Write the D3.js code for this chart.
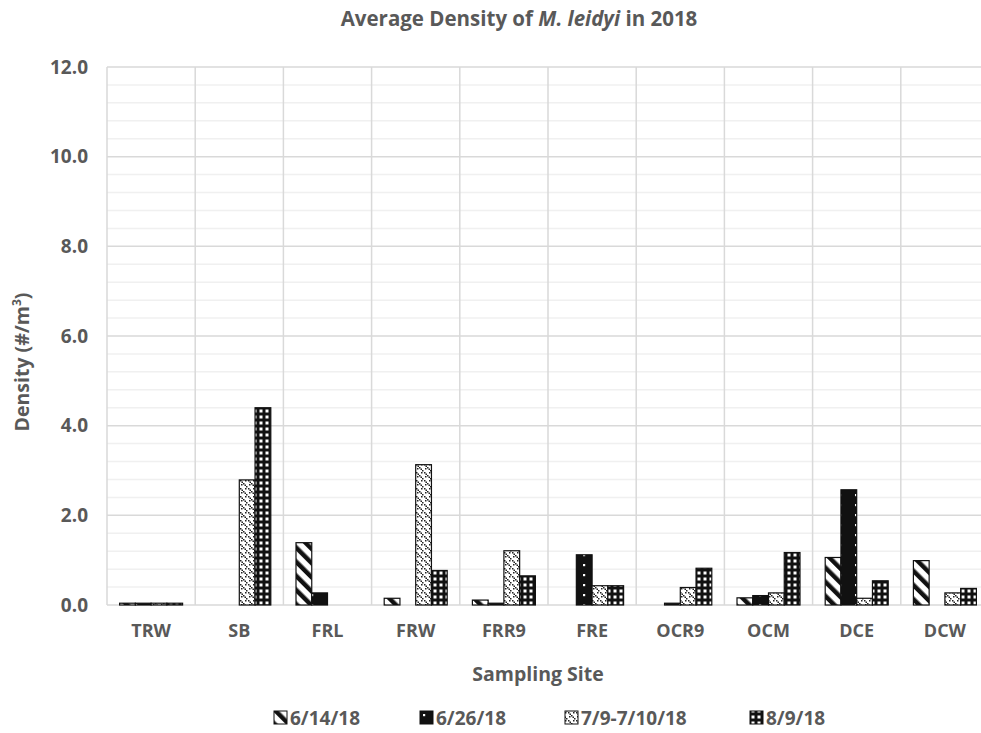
<!DOCTYPE html>
<html><head><meta charset="utf-8">
<script src="https://cdn.jsdelivr.net/npm/d3@7"></script>
<style>body{margin:0;background:#fff}svg{display:block}</style>
</head><body>
<svg id="c" width="981" height="733"></svg>
<script>
const sites = ["TRW","SB","FRL","FRW","FRR9","FRE","OCR9","OCM","DCE","DCW"];
const seriesNames = ["6/14/18","6/26/18","7/9-7/10/18","8/9/18"];
const s0614 = [0.04,0,1.39,0.15,0.11,0,0,0.16,1.06,0.99];
const s0626 = [0.04,0,0.27,0,0.04,1.12,0.04,0.21,2.57,0];
const s0709 = [0.04,2.79,0,3.13,1.21,0.43,0.39,0.27,0.15,0.27];
const s0809 = [0.04,4.40,0,0.77,0.65,0.43,0.82,1.17,0.54,0.37];
const seriesValues = [s0614,s0626,s0709,s0809];
const yTicks = [0,2,4,6,8,10,12];

const svg = d3.select("#c");
const m={l:107,r:989,t:67,b:605};
const textCol="#595959";
const font="'Open Sans', sans-serif";

const defs=svg.append("defs");
const p1=defs.append("pattern").attr("id","p0").attr("patternUnits","userSpaceOnUse")
  .attr("width",10).attr("height",10).attr("patternTransform","rotate(-45)");
p1.append("rect").attr("width",10).attr("height",10).attr("fill","#fff");
p1.append("rect").attr("width",4.5).attr("height",10).attr("fill","#111");
const p2=defs.append("pattern").attr("id","p1").attr("patternUnits","userSpaceOnUse")
  .attr("width",16).attr("height",10);
p2.append("rect").attr("width",16).attr("height",10).attr("fill","#111");
p2.append("rect").attr("x",7).attr("y",4).attr("width",2.2).attr("height",2.2).attr("fill","#fff");
const p3=defs.append("pattern").attr("id","p2").attr("patternUnits","userSpaceOnUse")
  .attr("width",8).attr("height",8);
p3.append("rect").attr("width",8).attr("height",8).attr("fill","#fff");
[[0,0],[1.5,1.5],[3,3],[4.5,4.5],[6,6],[5,0],[1,4]].forEach(([x,y])=>{
  p3.append("rect").attr("x",x).attr("y",y).attr("width",1.5).attr("height",1.5).attr("fill","#222");
});
const p4=defs.append("pattern").attr("id","p3").attr("patternUnits","userSpaceOnUse")
  .attr("width",6).attr("height",6);
p4.append("rect").attr("width",6).attr("height",6).attr("fill","#111");
p4.append("rect").attr("x",1.5).attr("y",1.5).attr("width",3).attr("height",3).attr("fill","#fff");

const x0=d3.scaleBand().domain(sites).range([m.l,m.r]).padding(0);
const x1=d3.scaleBand().domain(seriesNames).range([0,x0.bandwidth()]).paddingInner(0).paddingOuter(0.8);
const y=d3.scaleLinear().domain([0,12]).range([m.b,m.t]);

const minor=d3.range(0,12.01,0.4).filter(v=>Math.abs(v/2-Math.round(v/2))>1e-6);
svg.append("g").selectAll("line").data(minor).join("line")
  .attr("x1",m.l).attr("x2",m.r).attr("y1",d=>y(d)).attr("y2",d=>y(d))
  .attr("stroke","#f0f0f0").attr("stroke-width",1.5);
svg.append("g").selectAll("line").data(yTicks).join("line")
  .attr("x1",m.l).attr("x2",m.r).attr("y1",d=>y(d)).attr("y2",d=>y(d))
  .attr("stroke","#d9d9d9").attr("stroke-width",1.5);
svg.append("g").selectAll("line").data(sites.concat(["_end"])).join("line")
  .attr("x1",(d,i)=>i<sites.length?x0(d):m.r).attr("x2",(d,i)=>i<sites.length?x0(d):m.r)
  .attr("y1",m.t).attr("y2",m.b).attr("stroke","#d9d9d9").attr("stroke-width",1.5);

const g=svg.append("g");
seriesNames.forEach((s,si)=>{
  g.append("g").selectAll("rect").data(seriesValues[si].map((v,i)=>({site:sites[i],v}))).join("rect")
    .filter(d=>d.v>0)
    .attr("x",d=>x0(d.site)+x1(s)).attr("width",x1.bandwidth())
    .attr("y",d=>y(d.v)).attr("height",d=>y(0)-y(d.v))
    .attr("fill",`url(#p${si})`).attr("stroke","#111").attr("stroke-width",1.2);
});

const ya=svg.append("g").attr("transform",`translate(${m.l},0)`)
  .call(d3.axisLeft(y).tickValues(yTicks).tickFormat(d3.format(".1f")).tickSize(0).tickPadding(19));
ya.select(".domain").remove();
ya.selectAll("text").attr("font-family",font).attr("font-weight","bold").attr("font-size",19).attr("fill",textCol);

const xa=svg.append("g").attr("transform",`translate(0,${m.b})`)
  .call(d3.axisBottom(x0).tickSize(0).tickPadding(19));
xa.select(".domain").remove();
xa.selectAll("text").attr("font-family",font).attr("font-weight","bold").attr("font-size",18).attr("fill",textCol);

const t=svg.append("text").attr("x",519).attr("y",26).attr("text-anchor","middle")
  .attr("font-family",font).attr("font-weight","bold").attr("font-size",20.5).attr("fill",textCol);
t.append("tspan").text("Average Density of ");
t.append("tspan").attr("font-style","italic").text("M. leidyi");
t.append("tspan").text(" in 2018");

svg.append("text").attr("x",538).attr("y",681).attr("text-anchor","middle")
  .attr("font-family",font).attr("font-weight","bold").attr("font-size",19.5).attr("fill",textCol)
  .text("Sampling Site");
const yt=svg.append("text").attr("transform","translate(29,362) rotate(-90)").attr("text-anchor","middle")
  .attr("font-family",font).attr("font-weight","bold").attr("font-size",19.5).attr("fill",textCol);
yt.append("tspan").text("Density (#/m");
yt.append("tspan").attr("font-size",12).attr("dy",-8).text("3");
yt.append("tspan").attr("dy",8).text(")");

const legX=[274,420,565,750];
const lg=svg.append("g");
seriesNames.forEach((s,i)=>{
  lg.append("rect").attr("x",legX[i]).attr("y",711).attr("width",13).attr("height",13)
    .attr("fill",`url(#p${i})`).attr("stroke","#111").attr("stroke-width",1);
  lg.append("text").attr("x",legX[i]+16).attr("y",725)
    .attr("font-family",font).attr("font-weight","bold").attr("font-size",19).attr("fill",textCol).text(s);
});
</script>
</body></html>
